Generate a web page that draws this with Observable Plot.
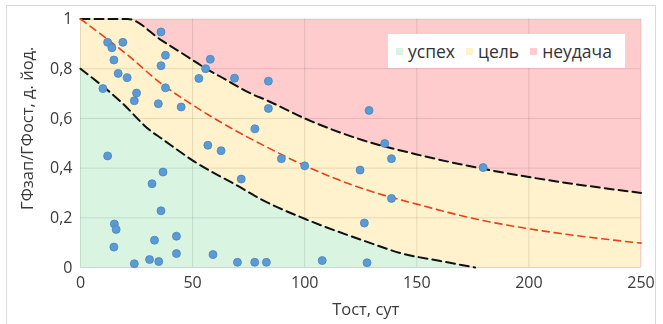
<!DOCTYPE html>
<html>
<head>
<meta charset="utf-8">
<script src="https://cdn.jsdelivr.net/npm/d3@7"></script>
<script src="https://cdn.jsdelivr.net/npm/@observablehq/plot@0.6"></script>
<style>
  html, body { margin: 0; padding: 0; background: #fff; }
  #wrap { position: relative; width: 663px; height: 324px; overflow: hidden; font-family: "Open Sans", sans-serif; }
  #frame { position: absolute; left: 6px; top: 5px; width: 650px; height: 340px; border: 1px solid #d9d9d9; box-sizing: border-box; pointer-events: none; }
  #legend { position: absolute; left: 388px; top: 34px; width: 237px; height: 34px; background: #fff;
            display: flex; align-items: center; font-size: 17.5px; color: #333; box-sizing: border-box; padding-left: 8px; }
  #legend .sw { display: inline-block; width: 7px; height: 7px; margin-right: 5px; }
  #legend .it { display: flex; align-items: center; margin-right: 11px; }
</style>
</head>
<body>
<div id="wrap"><div id="frame"></div><div id="chart"></div><div id="legend"></div></div>
<script>
// ---- data ----
const xTicks = [0, 50, 100, 150, 200, 250];
const yTicks = [0, 0.2, 0.4, 0.6, 0.8, 1];

const tost = [10.0,12.1,14.0,18.9,14.9,16.8,20.8,24.0,25.0,35.9,35.9,37.9,34.7,37.9,44.9,52.8,55.8,57.9,68.7,83.8,83.8,77.8,56.8,62.7,89.6,100.0,71.7,124.7,128.7,135.7,138.7,138.7,126.6,127.8,179.6,12.1,31.9,36.8,35.9,15.1,15.9,14.9,33.0,42.8,42.8,24.0,30.8,34.9,59.1,70.0,77.7,82.9,107.8];
const ratio = [0.72,0.906,0.884,0.906,0.835,0.781,0.764,0.671,0.702,0.948,0.812,0.854,0.659,0.723,0.646,0.761,0.80,0.838,0.762,0.75,0.64,0.558,0.492,0.47,0.438,0.409,0.356,0.392,0.632,0.499,0.438,0.278,0.179,0.019,0.402,0.449,0.337,0.384,0.228,0.175,0.153,0.082,0.11,0.126,0.056,0.015,0.032,0.024,0.052,0.021,0.021,0.021,0.028];

const upperX = [0, 21, 36, 50, 56, 64, 76, 83, 100, 126, 150, 179, 200, 250];
const upperY = [1, 1, 0.915, 0.835, 0.80, 0.76, 0.70, 0.673, 0.60, 0.512, 0.455, 0.398, 0.364, 0.30];
const midX = [0, 21, 36, 49, 64, 83, 100, 126, 150, 179, 200, 250];
const midY = [1, 0.855, 0.74, 0.66, 0.577, 0.485, 0.41, 0.317, 0.255, 0.19, 0.156, 0.098];
const lowerX = [0, 18, 31, 36, 51, 71, 80, 100, 126, 144, 160, 176];
const lowerY = [0.8, 0.667, 0.552, 0.52, 0.425, 0.324, 0.277, 0.196, 0.109, 0.055, 0.027, 0];

const zoneNames = ["успех", "цель", "неудача"];
const zoneColors = ["#d9f5e2", "#fff2cc", "#ffcccd"];
const xTitle = "Тост, сут";
const yTitle = "ГФзап/ГФост, д. йод.";

// ---- build ----
const pts = tost.map((t, i) => ({t, r: ratio[i]}));
const upper = upperX.map((x, i) => ({x, y: upperY[i]}));
const mid = midX.map((x, i) => ({x, y: midY[i]}));
const lower = lowerX.map((x, i) => ({x, y: lowerY[i]}));
const fmt = d => String(d).replace(".", ",");

const chart = Plot.plot({
  width: 663,
  height: 324,
  marginLeft: 80,
  marginRight: 22.5,
  marginTop: 18.5,
  marginBottom: 57,
  style: {fontFamily: "'Open Sans', sans-serif", color: "#3a3a3a", background: "transparent"},
  x: {domain: [0, 250]},
  y: {domain: [0, 1]},
  marks: [
    Plot.frame({fill: zoneColors[2], stroke: null}),
    Plot.areaY(upper, {x: "x", y1: 0, y2: "y", fill: zoneColors[1], curve: "monotone-x"}),
    Plot.areaY(lower, {x: "x", y1: 0, y2: "y", fill: zoneColors[0], curve: "monotone-x"}),
    Plot.gridX(xTicks, {stroke: "#e4e4e4", strokeOpacity: 1, strokeWidth: 1, mixBlendMode: "multiply"}),
    Plot.gridY(yTicks, {stroke: "#e4e4e4", strokeOpacity: 1, strokeWidth: 1, mixBlendMode: "multiply"}),
    Plot.axisX(xTicks, {tickSize: 0, tickPadding: 9, fontSize: 16, label: null, tickFormat: fmt}),
    Plot.axisY(yTicks, {tickSize: 0, tickPadding: 8, fontSize: 16, label: null, tickFormat: fmt}),
    Plot.line(upper, {x: "x", y: "y", stroke: "#111", strokeWidth: 2, strokeDasharray: "9,5", curve: "monotone-x"}),
    Plot.line(lower, {x: "x", y: "y", stroke: "#111", strokeWidth: 2, strokeDasharray: "9,5", curve: "monotone-x"}),
    Plot.line(mid, {x: "x", y: "y", stroke: "#e8401c", strokeWidth: 1.6, strokeDasharray: "7,5", curve: "monotone-x"}),
    Plot.dot(pts, {x: "t", y: "r", r: 4, fill: "#5b9bd5", stroke: "#4a84bd", strokeWidth: 0.8}),
    Plot.text([xTitle], {frameAnchor: "bottom", lineAnchor: "middle", textAnchor: "middle", dx: 5, dy: 42, fontSize: 16.5, fill: "#3a3a3a"}),
    Plot.text([yTitle], {frameAnchor: "left", lineAnchor: "middle", textAnchor: "middle", rotate: -90, dx: -53, dy: -15, fontSize: 16.5, fill: "#3a3a3a"})
  ]
});
document.getElementById("chart").appendChild(chart);

const leg = document.getElementById("legend");
zoneNames.forEach((n, i) => {
  const it = document.createElement("span");
  it.className = "it";
  it.innerHTML = `<span class="sw" style="background:${zoneColors[i]}"></span>${n}`;
  leg.appendChild(it);
});
</script>
</body>
</html>
